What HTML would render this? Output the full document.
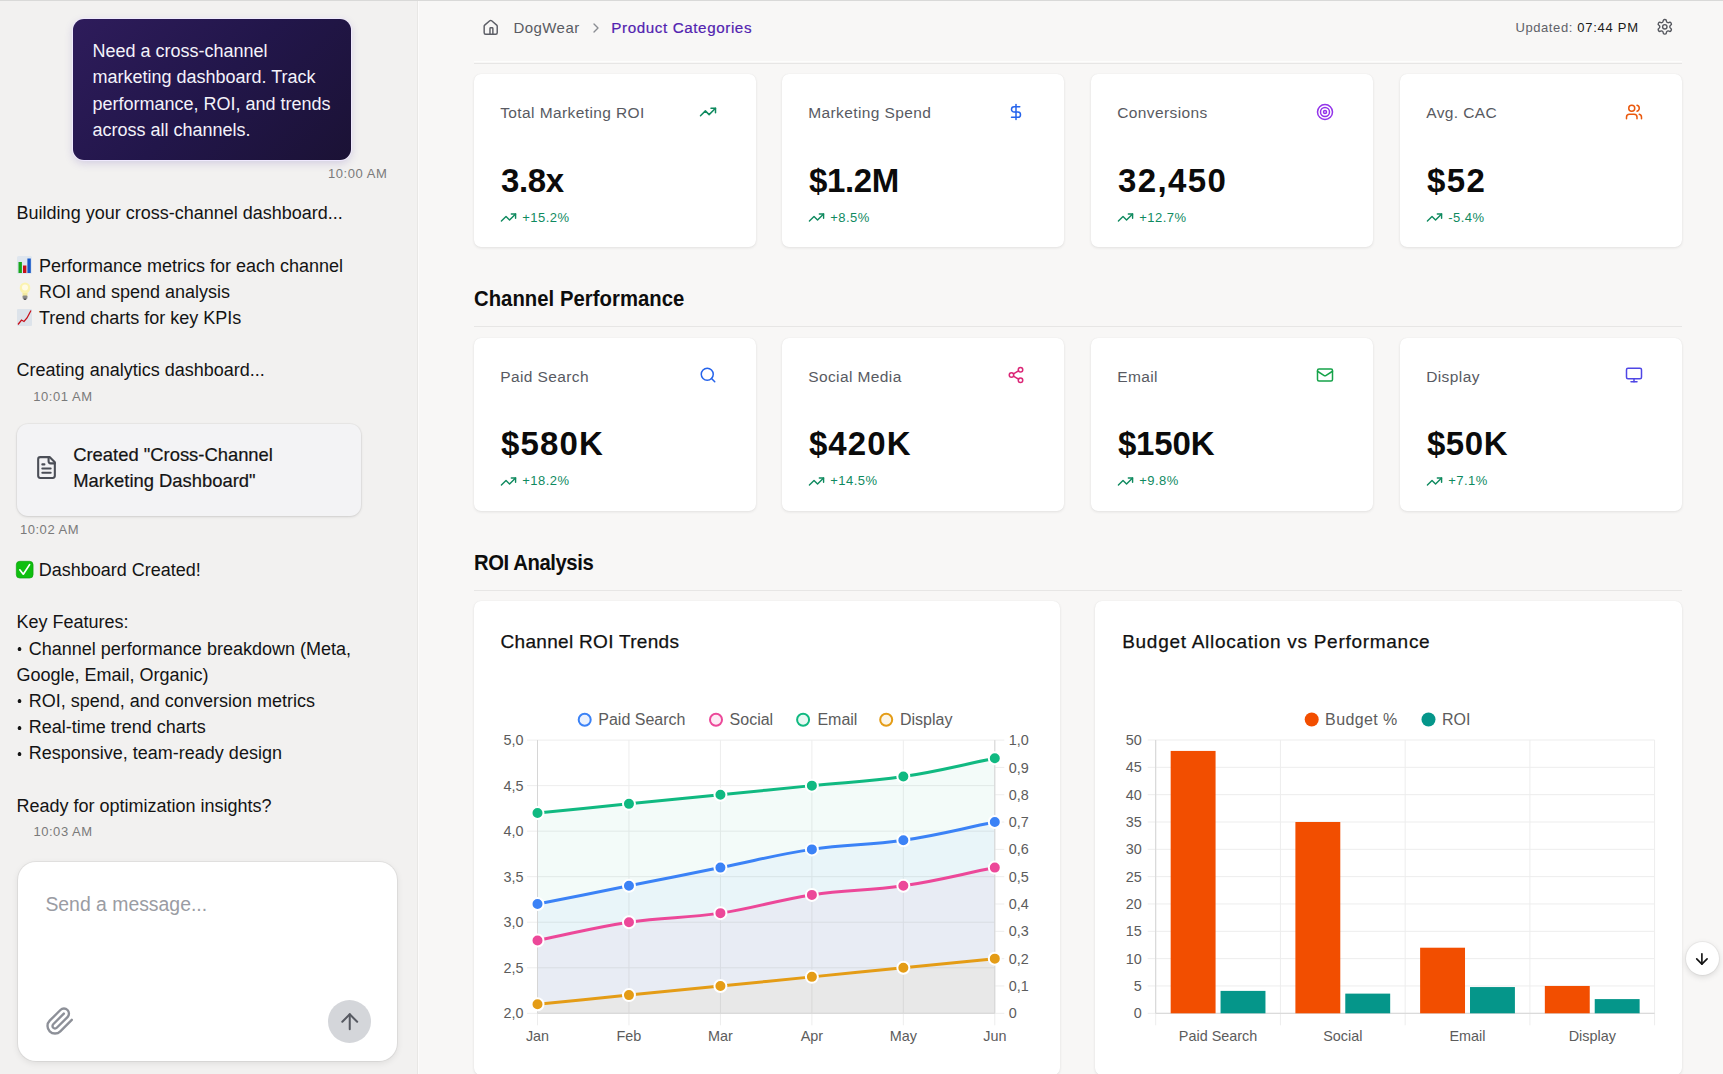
<!DOCTYPE html>
<html><head><meta charset="utf-8"><title>Cross-Channel Marketing Dashboard</title>
<style>
*{margin:0;padding:0;box-sizing:border-box}
html,body{width:1723px;height:1074px;overflow:hidden}
body{position:relative;background:#f8f7f6;font-family:"Liberation Sans", sans-serif;color:#111}
.t{position:absolute;white-space:nowrap}
.ic{position:absolute;overflow:visible}
#left{position:absolute;left:0;top:0;width:418px;height:1074px;background:#f2f1f0;border-right:1px solid #e8e7e5;box-shadow:1px 0 0 rgba(255,255,255,0.55)}
#topline{position:absolute;left:0;top:0;width:1723px;height:1px;background:#d9d9d8;z-index:5}
.bubble{position:absolute;left:73px;top:18.5px;width:278px;height:141.5px;border-radius:11px;
  background:linear-gradient(135deg,#2e1c5b 0%,#22164a 50%,#1b1235 100%);box-shadow:0 0 0 1px rgba(240,234,255,0.95),0 3px 9px rgba(90,70,170,0.22)}
.btext{color:#f4f2fa;font-size:18px;line-height:26.2px}
.chat{font-size:18px;color:#141414}
.ts{font-size:13px;color:#7a7a7a;letter-spacing:0.55px;line-height:16px}
.ei{display:inline-block;width:22.3px}
.bl{display:inline-block;width:12.4px;height:4.2px;vertical-align:3.4px;background:radial-gradient(circle at 3.5px 2.1px,#141414 1.6px,rgba(20,20,20,0) 2.2px)}
.fcard{position:absolute;left:17px;top:424px;width:344px;height:92px;border-radius:11px;background:#f3f3f5;
  box-shadow:0 1px 3px rgba(0,0,0,0.12),0 0 0 1px rgba(0,0,0,0.03)}
.input{position:absolute;left:17.6px;top:861.9px;width:379.5px;height:198.8px;border-radius:18px;background:#fff;
  box-shadow:0 2px 7px rgba(0,0,0,0.09),0 0 0 1px rgba(0,0,0,0.05)}
.send{position:absolute;left:328px;top:1000px;width:43.2px;height:43.2px;border-radius:50%;background:#d4d6da}
.card{position:absolute;background:#fff;border-radius:7px;box-shadow:0 1px 3px rgba(0,0,0,0.09),0 0 1px rgba(0,0,0,0.07)}
.ktitle{font-size:15.5px;color:#585a62;letter-spacing:0.4px;line-height:20px}
.kval{font-size:33px;font-weight:bold;color:#0b0b0b;line-height:40px}
.kchg{font-size:13px;color:#0f8a5f;letter-spacing:0.45px;line-height:18px}
.h2{font-size:21.8px;font-weight:bold;color:#0d0d0d;line-height:28px;transform:scaleX(0.93);transform-origin:0 0}
.sep{position:absolute;left:474px;width:1208px;height:1px;background:#e7e6e5}
.ctitle{font-size:19.8px;color:#111;line-height:26px;-webkit-text-stroke:0.25px #111}
.scroll{position:absolute;left:1685.5px;top:941.7px;width:33px;height:33px;border-radius:50%;background:#fff;
  box-shadow:0 2px 6px rgba(0,0,0,0.13),0 0 0 1px rgba(0,0,0,0.04)}
</style></head><body>
<div id="topline"></div>
<div id="left">
<div class="bubble"></div>
<div class="t btext" style="left:92.5px;top:38.26px">Need a cross-channel<br>marketing dashboard. Track<br>performance, ROI, and trends<br>across all channels.</div>
<div class="t ts" style="right:29.7px;top:166.00px">10:00 AM</div>
<div class="t chat" style="left:16.6px;top:200.49px;line-height:26.15px">Building your cross-channel dashboard...<br><br><span class="ei"></span>Performance metrics for each channel<br><span class="ei"></span>ROI and spend analysis<br><span class="ei"></span>Trend charts for key KPIs<br><br>Creating analytics dashboard...</div>
<svg class="ic" style="left:17px;top:256px;width:15px;height:18px" viewBox="0 0 15 18"><rect x="0" y="0" width="15" height="18" rx="1.5" fill="#dfe6ee"/><rect x="1.5" y="6" width="3.4" height="11" fill="#17a81a"/><rect x="6" y="9.5" width="3.4" height="7.5" fill="#c8101a"/><rect x="10.4" y="2.5" width="3.4" height="14.5" fill="#1556c8"/></svg><svg class="ic" style="left:19px;top:282px;width:12px;height:19px" viewBox="0 0 12 19"><ellipse cx="6" cy="6" rx="5.3" ry="5.6" fill="#fbf3b0"/><circle cx="6" cy="5.5" r="3" fill="#fffbe6"/><rect x="3.5" y="11" width="5" height="4" fill="#f2e9a0"/><rect x="3.6" y="13.5" width="4.8" height="3.5" rx="1" fill="#8a8a8a"/><rect x="4.6" y="16.5" width="2.8" height="1.5" rx="0.7" fill="#555"/></svg><svg class="ic" style="left:17px;top:309px;width:15px;height:17px" viewBox="0 0 15 17"><rect x="0" y="0" width="15" height="17" rx="1" fill="#dde3ea"/><polyline points="1,15.5 4.5,11 7,12.5 10,9 14,1.5" fill="none" stroke="#c8101a" stroke-width="1.3"/></svg>
<div class="t ts" style="left:33.2px;top:388.90px">10:01 AM</div>
<div class="fcard"></div>
<svg class="ic" style="left:34.4px;top:455.2px;width:25px;height:25px" viewBox="0 0 24 24" fill="none" stroke="#4b4e57" stroke-width="2" stroke-linecap="round" stroke-linejoin="round"><path d="M15 2H6a2 2 0 0 0-2 2v16a2 2 0 0 0 2 2h12a2 2 0 0 0 2-2V7Z"/><path d="M14 2v4a2 2 0 0 0 2 2h4"/><path d="M10 9H8"/><path d="M16 13H8"/><path d="M16 17H8"/></svg>
<div class="t chat" style="left:73.2px;top:441.87px;font-size:18.4px;line-height:25.9px;-webkit-text-stroke:0.2px #141414">Created "Cross-Channel<br>Marketing Dashboard"</div>
<div class="t ts" style="left:19.9px;top:522.10px">10:02 AM</div>
<div class="t chat" style="left:16.4px;top:557.06px;line-height:26.2px"><span class="ei"></span>Dashboard Created!<br><br>Key Features:<br><span class="bl"></span>Channel performance breakdown (Meta,<br>Google, Email, Organic)<br><span class="bl"></span>ROI, spend, and conversion metrics<br><span class="bl"></span>Real-time trend charts<br><span class="bl"></span>Responsive, team-ready design<br><br>Ready for optimization insights?</div>
<svg class="ic" style="left:16px;top:560.7px;width:17.4px;height:17.4px" viewBox="0 0 17.4 17.4"><rect x="0.3" y="0.3" width="16.8" height="16.8" rx="3.5" fill="#0fbf0f" stroke="#0a9a0a" stroke-width="0.6"/><polyline points="3.8,8.8 7.3,13.2 13.6,3.6" fill="none" stroke="#fff" stroke-width="1.7" stroke-linecap="round" stroke-linejoin="round"/></svg>
<div class="t ts" style="left:33.4px;top:823.90px">10:03 AM</div>
<div class="input"></div>
<div class="t" style="left:45.4px;top:891.88px;font-size:19.4px;line-height:24px;color:#9a9ca3">Send a message...</div>
<svg class="ic" style="left:44.6px;top:1006.2px;width:30px;height:30px" viewBox="0 0 24 24" fill="none" stroke="#8d9098" stroke-width="1.9" stroke-linecap="round" stroke-linejoin="round"><path d="m21.44 11.05-9.19 9.19a6 6 0 0 1-8.49-8.49l8.57-8.57A4 4 0 1 1 18 8.84l-8.59 8.57a2 2 0 0 1-2.83-2.83l8.49-8.48"/></svg>
<div class="send"></div>
<svg class="ic" style="left:336.75px;top:1008.6px;width:25.5px;height:25.5px" viewBox="0 0 24 24" fill="none" stroke="#575a62" stroke-width="1.9" stroke-linecap="round" stroke-linejoin="round"><path d="m5 12 7-7 7 7"/><path d="M12 19V5"/></svg>
</div>
<!-- header -->
<svg class="ic" style="left:481.9px;top:19.0px;width:17.4px;height:17.4px" viewBox="0 0 24 24" fill="none" stroke="#5c5e66" stroke-width="2" stroke-linecap="round" stroke-linejoin="round"><path d="M15 21v-8a1 1 0 0 0-1-1h-2a1 1 0 0 0-1 1v8"/><path d="M3 10a2 2 0 0 1 .709-1.528l7-5.999a2 2 0 0 1 2.582 0l7 5.999A2 2 0 0 1 21 10v9a2 2 0 0 1-2 2H5a2 2 0 0 1-2-2z"/></svg>
<div class="t" style="left:513.4px;top:18.00px;font-size:15px;line-height:20px;color:#5a5c63;letter-spacing:0.45px">DogWear</div>
<svg class="ic" style="left:587.7px;top:19.6px;width:16px;height:16px" viewBox="0 0 24 24" fill="none" stroke="#8a8c92" stroke-width="2" stroke-linecap="round" stroke-linejoin="round"><path d="m9 18 6-6-6-6"/></svg>
<div class="t" style="left:611.3px;top:17.83px;font-size:15.2px;letter-spacing:0.6px;line-height:20px;color:#5223b0;-webkit-text-stroke:0.2px #5223b0">Product Categories</div>
<div class="t" style="left:1515.4px;top:20.20px;font-size:13px;line-height:16px;color:#5f6168;letter-spacing:0.6px">Updated: <span style="color:#1a1a1a;letter-spacing:0.75px">07:44 PM</span></div>
<svg class="ic" style="left:1656px;top:18px;width:17.6px;height:17.6px" viewBox="0 0 24 24" fill="none" stroke="#55575e" stroke-width="1.9" stroke-linecap="round" stroke-linejoin="round"><path d="M12.22 2h-.44a2 2 0 0 0-2 2v.18a2 2 0 0 1-1 1.73l-.43.25a2 2 0 0 1-2 0l-.15-.08a2 2 0 0 0-2.73.73l-.22.38a2 2 0 0 0 .73 2.73l.15.1a2 2 0 0 1 1 1.72v.51a2 2 0 0 1-1 1.74l-.15.09a2 2 0 0 0-.73 2.73l.22.38a2 2 0 0 0 2.73.73l.15-.08a2 2 0 0 1 2 0l.43.25a2 2 0 0 1 1 1.73V20a2 2 0 0 0 2 2h.44a2 2 0 0 0 2-2v-.18a2 2 0 0 1 1-1.73l.43-.25a2 2 0 0 1 2 0l.15.08a2 2 0 0 0 2.73-.73l.22-.39a2 2 0 0 0-.73-2.73l-.15-.08a2 2 0 0 1-1-1.74v-.5a2 2 0 0 1 1-1.74l.15-.09a2 2 0 0 0 .73-2.73l-.22-.38a2 2 0 0 0-2.73-.73l-.15.08a2 2 0 0 1-2 0l-.43-.25a2 2 0 0 1-1-1.73V4a2 2 0 0 0-2-2z"/><circle cx="12" cy="12" r="3"/></svg>
<div class="sep" style="top:61px;background:rgba(255,255,255,0.7)"></div><div class="sep" style="top:63px"></div>
<div class="card" style="left:474px;top:74px;width:282px;height:173.3px"></div>
<div class="t ktitle" style="left:500.2px;top:103.13px">Total Marketing ROI</div>
<svg class="ic" style="left:698.5px;top:102.5px;width:18px;height:18px" viewBox="0 0 24 24" fill="none" stroke="#0f8a5f" stroke-width="2" stroke-linecap="round" stroke-linejoin="round"><polyline points="22 7 13.5 15.5 8.5 10.5 2 17"/><polyline points="16 7 22 7 22 13"/></svg>
<div class="t kval" style="left:500.9px;top:160.77px;letter-spacing:-0.3px">3.8x</div>
<svg class="ic" style="left:499.6px;top:209.3px;width:17px;height:17px" viewBox="0 0 24 24" fill="none" stroke="#0f8a5f" stroke-width="2" stroke-linecap="round" stroke-linejoin="round"><polyline points="22 7 13.5 15.5 8.5 10.5 2 17"/><polyline points="16 7 22 7 22 13"/></svg>
<div class="t kchg" style="left:522.3px;top:208.80px">+15.2%</div>
<div class="card" style="left:782px;top:74px;width:282px;height:173.3px"></div>
<div class="t ktitle" style="left:808.2px;top:103.13px">Marketing Spend</div>
<svg class="ic" style="left:1006.5px;top:102.5px;width:18px;height:18px" viewBox="0 0 24 24" fill="none" stroke="#2563eb" stroke-width="2" stroke-linecap="round" stroke-linejoin="round"><line x1="12" x2="12" y1="2" y2="22"/><path d="M17 5H9.5a3.5 3.5 0 0 0 0 7h5a3.5 3.5 0 0 1 0 7H6"/></svg>
<div class="t kval" style="left:808.9px;top:160.77px;letter-spacing:-0.35px">$1.2M</div>
<svg class="ic" style="left:807.6px;top:209.3px;width:17px;height:17px" viewBox="0 0 24 24" fill="none" stroke="#0f8a5f" stroke-width="2" stroke-linecap="round" stroke-linejoin="round"><polyline points="22 7 13.5 15.5 8.5 10.5 2 17"/><polyline points="16 7 22 7 22 13"/></svg>
<div class="t kchg" style="left:830.3px;top:208.80px">+8.5%</div>
<div class="card" style="left:1091px;top:74px;width:282px;height:173.3px"></div>
<div class="t ktitle" style="left:1117.2px;top:103.13px">Conversions</div>
<svg class="ic" style="left:1315.5px;top:102.5px;width:18px;height:18px" viewBox="0 0 24 24" fill="none" stroke="#9333ea" stroke-width="2" stroke-linecap="round" stroke-linejoin="round"><circle cx="12" cy="12" r="10"/><circle cx="12" cy="12" r="6"/><circle cx="12" cy="12" r="2"/></svg>
<div class="t kval" style="left:1117.9px;top:160.77px;letter-spacing:1.4px">32,450</div>
<svg class="ic" style="left:1116.6px;top:209.3px;width:17px;height:17px" viewBox="0 0 24 24" fill="none" stroke="#0f8a5f" stroke-width="2" stroke-linecap="round" stroke-linejoin="round"><polyline points="22 7 13.5 15.5 8.5 10.5 2 17"/><polyline points="16 7 22 7 22 13"/></svg>
<div class="t kchg" style="left:1139.3px;top:208.80px">+12.7%</div>
<div class="card" style="left:1400px;top:74px;width:282px;height:173.3px"></div>
<div class="t ktitle" style="left:1426.2px;top:103.13px">Avg. CAC</div>
<svg class="ic" style="left:1624.5px;top:102.5px;width:18px;height:18px" viewBox="0 0 24 24" fill="none" stroke="#ea580c" stroke-width="2" stroke-linecap="round" stroke-linejoin="round"><path d="M16 21v-2a4 4 0 0 0-4-4H6a4 4 0 0 0-4 4v2"/><circle cx="9" cy="7" r="4"/><path d="M22 21v-2a4 4 0 0 0-3-3.87"/><path d="M16 3.13a4 4 0 0 1 0 7.75"/></svg>
<div class="t kval" style="left:1426.9px;top:160.77px;letter-spacing:1.4px">$52</div>
<svg class="ic" style="left:1425.6px;top:209.3px;width:17px;height:17px" viewBox="0 0 24 24" fill="none" stroke="#0f8a5f" stroke-width="2" stroke-linecap="round" stroke-linejoin="round"><polyline points="22 7 13.5 15.5 8.5 10.5 2 17"/><polyline points="16 7 22 7 22 13"/></svg>
<div class="t kchg" style="left:1448.3px;top:208.80px">-5.4%</div>
<div class="t h2" style="left:474.4px;top:284.85px;letter-spacing:0.05px">Channel Performance</div>
<div class="sep" style="top:326.4px"></div>
<div class="card" style="left:474px;top:337.5px;width:282px;height:173.3px"></div>
<div class="t ktitle" style="left:500.2px;top:366.63px">Paid Search</div>
<svg class="ic" style="left:698.5px;top:366.0px;width:18px;height:18px" viewBox="0 0 24 24" fill="none" stroke="#2563eb" stroke-width="2" stroke-linecap="round" stroke-linejoin="round"><circle cx="11" cy="11" r="8"/><path d="m21 21-4.3-4.3"/></svg>
<div class="t kval" style="left:500.9px;top:424.27px;letter-spacing:1.2px">$580K</div>
<svg class="ic" style="left:499.6px;top:472.8px;width:17px;height:17px" viewBox="0 0 24 24" fill="none" stroke="#0f8a5f" stroke-width="2" stroke-linecap="round" stroke-linejoin="round"><polyline points="22 7 13.5 15.5 8.5 10.5 2 17"/><polyline points="16 7 22 7 22 13"/></svg>
<div class="t kchg" style="left:522.3px;top:472.30px">+18.2%</div>
<div class="card" style="left:782px;top:337.5px;width:282px;height:173.3px"></div>
<div class="t ktitle" style="left:808.2px;top:366.63px">Social Media</div>
<svg class="ic" style="left:1006.5px;top:366.0px;width:18px;height:18px" viewBox="0 0 24 24" fill="none" stroke="#db2777" stroke-width="2" stroke-linecap="round" stroke-linejoin="round"><circle cx="18" cy="5" r="3"/><circle cx="6" cy="12" r="3"/><circle cx="18" cy="19" r="3"/><line x1="8.59" x2="15.42" y1="13.51" y2="17.49"/><line x1="15.41" x2="8.59" y1="6.51" y2="10.49"/></svg>
<div class="t kval" style="left:808.9px;top:424.27px;letter-spacing:1.1px">$420K</div>
<svg class="ic" style="left:807.6px;top:472.8px;width:17px;height:17px" viewBox="0 0 24 24" fill="none" stroke="#0f8a5f" stroke-width="2" stroke-linecap="round" stroke-linejoin="round"><polyline points="22 7 13.5 15.5 8.5 10.5 2 17"/><polyline points="16 7 22 7 22 13"/></svg>
<div class="t kchg" style="left:830.3px;top:472.30px">+14.5%</div>
<div class="card" style="left:1091px;top:337.5px;width:282px;height:173.3px"></div>
<div class="t ktitle" style="left:1117.2px;top:366.63px">Email</div>
<svg class="ic" style="left:1315.5px;top:366.0px;width:18px;height:18px" viewBox="0 0 24 24" fill="none" stroke="#16a34a" stroke-width="2" stroke-linecap="round" stroke-linejoin="round"><rect width="20" height="16" x="2" y="4" rx="2"/><path d="m22 7-8.97 5.7a1.94 1.94 0 0 1-2.06 0L2 7"/></svg>
<div class="t kval" style="left:1117.9px;top:424.27px;letter-spacing:-0.15px">$150K</div>
<svg class="ic" style="left:1116.6px;top:472.8px;width:17px;height:17px" viewBox="0 0 24 24" fill="none" stroke="#0f8a5f" stroke-width="2" stroke-linecap="round" stroke-linejoin="round"><polyline points="22 7 13.5 15.5 8.5 10.5 2 17"/><polyline points="16 7 22 7 22 13"/></svg>
<div class="t kchg" style="left:1139.3px;top:472.30px">+9.8%</div>
<div class="card" style="left:1400px;top:337.5px;width:282px;height:173.3px"></div>
<div class="t ktitle" style="left:1426.2px;top:366.63px">Display</div>
<svg class="ic" style="left:1624.5px;top:366.0px;width:18px;height:18px" viewBox="0 0 24 24" fill="none" stroke="#4f46e5" stroke-width="2" stroke-linecap="round" stroke-linejoin="round"><rect width="20" height="14" x="2" y="3" rx="2"/><line x1="8" x2="16" y1="21" y2="21"/><line x1="12" x2="12" y1="17" y2="21"/></svg>
<div class="t kval" style="left:1426.9px;top:424.27px;letter-spacing:0.6px">$50K</div>
<svg class="ic" style="left:1425.6px;top:472.8px;width:17px;height:17px" viewBox="0 0 24 24" fill="none" stroke="#0f8a5f" stroke-width="2" stroke-linecap="round" stroke-linejoin="round"><polyline points="22 7 13.5 15.5 8.5 10.5 2 17"/><polyline points="16 7 22 7 22 13"/></svg>
<div class="t kchg" style="left:1448.3px;top:472.30px">+7.1%</div>
<div class="t h2" style="left:474.4px;top:548.55px;letter-spacing:-0.45px">ROI Analysis</div>
<div class="sep" style="top:590px"></div>
<div class="card" style="left:474px;top:600.5px;width:586px;height:474.5px"></div>
<div class="card" style="left:1095px;top:600.5px;width:587px;height:474.5px"></div>
<div class="t ctitle" style="left:500.6px;top:628.92px;font-size:19px;letter-spacing:0.3px">Channel ROI Trends</div>
<div class="t ctitle" style="left:1122.2px;top:628.92px;font-size:19px;letter-spacing:0.72px">Budget Allocation vs Performance</div>
<svg style="position:absolute;left:0;top:0" width="1723" height="1074" viewBox="0 0 1723 1074">
<line x1="527.0" y1="740.10" x2="994.8" y2="740.10" stroke="#ededed" stroke-width="1"/>
<line x1="527.0" y1="785.63" x2="994.8" y2="785.63" stroke="#ededed" stroke-width="1"/>
<line x1="527.0" y1="831.17" x2="994.8" y2="831.17" stroke="#ededed" stroke-width="1"/>
<line x1="527.0" y1="876.70" x2="994.8" y2="876.70" stroke="#ededed" stroke-width="1"/>
<line x1="527.0" y1="922.23" x2="994.8" y2="922.23" stroke="#ededed" stroke-width="1"/>
<line x1="527.0" y1="967.77" x2="994.8" y2="967.77" stroke="#ededed" stroke-width="1"/>
<line x1="527.0" y1="1013.30" x2="994.8" y2="1013.30" stroke="#ededed" stroke-width="1"/>
<line x1="537.50" y1="740.1" x2="537.50" y2="1025.3" stroke="#ededed" stroke-width="1"/>
<line x1="628.96" y1="740.1" x2="628.96" y2="1025.3" stroke="#ededed" stroke-width="1"/>
<line x1="720.42" y1="740.1" x2="720.42" y2="1025.3" stroke="#ededed" stroke-width="1"/>
<line x1="811.88" y1="740.1" x2="811.88" y2="1025.3" stroke="#ededed" stroke-width="1"/>
<line x1="903.34" y1="740.1" x2="903.34" y2="1025.3" stroke="#ededed" stroke-width="1"/>
<line x1="994.80" y1="740.1" x2="994.80" y2="1025.3" stroke="#ededed" stroke-width="1"/>
<line x1="994.8" y1="740.10" x2="1004.3" y2="740.10" stroke="#ededed" stroke-width="1"/>
<line x1="994.8" y1="767.42" x2="1004.3" y2="767.42" stroke="#ededed" stroke-width="1"/>
<line x1="994.8" y1="794.74" x2="1004.3" y2="794.74" stroke="#ededed" stroke-width="1"/>
<line x1="994.8" y1="822.06" x2="1004.3" y2="822.06" stroke="#ededed" stroke-width="1"/>
<line x1="994.8" y1="849.38" x2="1004.3" y2="849.38" stroke="#ededed" stroke-width="1"/>
<line x1="994.8" y1="876.70" x2="1004.3" y2="876.70" stroke="#ededed" stroke-width="1"/>
<line x1="994.8" y1="904.02" x2="1004.3" y2="904.02" stroke="#ededed" stroke-width="1"/>
<line x1="994.8" y1="931.34" x2="1004.3" y2="931.34" stroke="#ededed" stroke-width="1"/>
<line x1="994.8" y1="958.66" x2="1004.3" y2="958.66" stroke="#ededed" stroke-width="1"/>
<line x1="994.8" y1="985.98" x2="1004.3" y2="985.98" stroke="#ededed" stroke-width="1"/>
<line x1="994.8" y1="1013.30" x2="1004.3" y2="1013.30" stroke="#ededed" stroke-width="1"/>
<path d="M537.50,904.02 C574.08,896.73 592.38,893.09 628.96,885.81 C665.54,878.52 683.84,874.88 720.42,867.59 C757.00,860.31 775.03,854.88 811.88,849.38 C848.20,843.96 867.02,845.70 903.34,840.27 C940.19,834.77 958.22,829.35 994.80,822.06 L994.80,1013.3 L537.50,1013.3 Z" fill="rgba(59,130,246,0.05)"/>
<path d="M537.50,940.45 C574.08,933.16 592.11,927.74 628.96,922.23 C665.28,916.81 684.10,918.55 720.42,913.13 C757.27,907.62 775.03,900.42 811.88,894.91 C848.20,889.49 867.02,891.23 903.34,885.81 C940.19,880.30 958.22,874.88 994.80,867.59 L994.80,1013.3 L537.50,1013.3 Z" fill="rgba(236,72,153,0.05)"/>
<path d="M537.50,812.95 C574.08,809.31 592.38,807.49 628.96,803.85 C665.54,800.20 683.84,798.38 720.42,794.74 C757.00,791.10 775.30,789.28 811.88,785.63 C848.46,781.99 867.02,781.95 903.34,776.53 C940.19,771.02 958.22,765.60 994.80,758.31 L994.80,1013.3 L537.50,1013.3 Z" fill="rgba(16,185,129,0.05)"/>
<path d="M537.50,1004.19 C574.08,1000.55 592.38,998.73 628.96,995.09 C665.54,991.44 683.84,989.62 720.42,985.98 C757.00,982.34 775.30,980.52 811.88,976.87 C848.46,973.23 866.76,971.41 903.34,967.77 C939.92,964.12 958.22,962.30 994.80,958.66 L994.80,1013.3 L537.50,1013.3 Z" fill="rgba(228,156,22,0.05)"/>
<line x1="537.5" y1="740.1" x2="537.5" y2="1013.3" stroke="#d6d6d6" stroke-width="1"/>
<line x1="994.8" y1="740.1" x2="994.8" y2="1013.3" stroke="#d6d6d6" stroke-width="1"/>
<line x1="537.5" y1="1013.3" x2="994.8" y2="1013.3" stroke="#d6d6d6" stroke-width="1"/>
<path d="M537.50,904.02 C574.08,896.73 592.38,893.09 628.96,885.81 C665.54,878.52 683.84,874.88 720.42,867.59 C757.00,860.31 775.03,854.88 811.88,849.38 C848.20,843.96 867.02,845.70 903.34,840.27 C940.19,834.77 958.22,829.35 994.80,822.06" fill="none" stroke="rgb(59,130,246)" stroke-width="3" stroke-linejoin="round"/>
<path d="M537.50,940.45 C574.08,933.16 592.11,927.74 628.96,922.23 C665.28,916.81 684.10,918.55 720.42,913.13 C757.27,907.62 775.03,900.42 811.88,894.91 C848.20,889.49 867.02,891.23 903.34,885.81 C940.19,880.30 958.22,874.88 994.80,867.59" fill="none" stroke="rgb(236,72,153)" stroke-width="3" stroke-linejoin="round"/>
<path d="M537.50,812.95 C574.08,809.31 592.38,807.49 628.96,803.85 C665.54,800.20 683.84,798.38 720.42,794.74 C757.00,791.10 775.30,789.28 811.88,785.63 C848.46,781.99 867.02,781.95 903.34,776.53 C940.19,771.02 958.22,765.60 994.80,758.31" fill="none" stroke="rgb(16,185,129)" stroke-width="3" stroke-linejoin="round"/>
<path d="M537.50,1004.19 C574.08,1000.55 592.38,998.73 628.96,995.09 C665.54,991.44 683.84,989.62 720.42,985.98 C757.00,982.34 775.30,980.52 811.88,976.87 C848.46,973.23 866.76,971.41 903.34,967.77 C939.92,964.12 958.22,962.30 994.80,958.66" fill="none" stroke="rgb(228,156,22)" stroke-width="3" stroke-linejoin="round"/>
<circle cx="537.50" cy="904.02" r="6" fill="rgb(59,130,246)" stroke="#fff" stroke-width="2"/>
<circle cx="628.96" cy="885.81" r="6" fill="rgb(59,130,246)" stroke="#fff" stroke-width="2"/>
<circle cx="720.42" cy="867.59" r="6" fill="rgb(59,130,246)" stroke="#fff" stroke-width="2"/>
<circle cx="811.88" cy="849.38" r="6" fill="rgb(59,130,246)" stroke="#fff" stroke-width="2"/>
<circle cx="903.34" cy="840.27" r="6" fill="rgb(59,130,246)" stroke="#fff" stroke-width="2"/>
<circle cx="994.80" cy="822.06" r="6" fill="rgb(59,130,246)" stroke="#fff" stroke-width="2"/>
<circle cx="537.50" cy="940.45" r="6" fill="rgb(236,72,153)" stroke="#fff" stroke-width="2"/>
<circle cx="628.96" cy="922.23" r="6" fill="rgb(236,72,153)" stroke="#fff" stroke-width="2"/>
<circle cx="720.42" cy="913.13" r="6" fill="rgb(236,72,153)" stroke="#fff" stroke-width="2"/>
<circle cx="811.88" cy="894.91" r="6" fill="rgb(236,72,153)" stroke="#fff" stroke-width="2"/>
<circle cx="903.34" cy="885.81" r="6" fill="rgb(236,72,153)" stroke="#fff" stroke-width="2"/>
<circle cx="994.80" cy="867.59" r="6" fill="rgb(236,72,153)" stroke="#fff" stroke-width="2"/>
<circle cx="537.50" cy="812.95" r="6" fill="rgb(16,185,129)" stroke="#fff" stroke-width="2"/>
<circle cx="628.96" cy="803.85" r="6" fill="rgb(16,185,129)" stroke="#fff" stroke-width="2"/>
<circle cx="720.42" cy="794.74" r="6" fill="rgb(16,185,129)" stroke="#fff" stroke-width="2"/>
<circle cx="811.88" cy="785.63" r="6" fill="rgb(16,185,129)" stroke="#fff" stroke-width="2"/>
<circle cx="903.34" cy="776.53" r="6" fill="rgb(16,185,129)" stroke="#fff" stroke-width="2"/>
<circle cx="994.80" cy="758.31" r="6" fill="rgb(16,185,129)" stroke="#fff" stroke-width="2"/>
<circle cx="537.50" cy="1004.19" r="6" fill="rgb(228,156,22)" stroke="#fff" stroke-width="2"/>
<circle cx="628.96" cy="995.09" r="6" fill="rgb(228,156,22)" stroke="#fff" stroke-width="2"/>
<circle cx="720.42" cy="985.98" r="6" fill="rgb(228,156,22)" stroke="#fff" stroke-width="2"/>
<circle cx="811.88" cy="976.87" r="6" fill="rgb(228,156,22)" stroke="#fff" stroke-width="2"/>
<circle cx="903.34" cy="967.77" r="6" fill="rgb(228,156,22)" stroke="#fff" stroke-width="2"/>
<circle cx="994.80" cy="958.66" r="6" fill="rgb(228,156,22)" stroke="#fff" stroke-width="2"/>
<text x="523.5" y="745.20" text-anchor="end" font-family='Liberation Sans' font-size="14.4" fill="#5c5c5c">5,0</text>
<text x="523.5" y="790.73" text-anchor="end" font-family='Liberation Sans' font-size="14.4" fill="#5c5c5c">4,5</text>
<text x="523.5" y="836.27" text-anchor="end" font-family='Liberation Sans' font-size="14.4" fill="#5c5c5c">4,0</text>
<text x="523.5" y="881.80" text-anchor="end" font-family='Liberation Sans' font-size="14.4" fill="#5c5c5c">3,5</text>
<text x="523.5" y="927.33" text-anchor="end" font-family='Liberation Sans' font-size="14.4" fill="#5c5c5c">3,0</text>
<text x="523.5" y="972.87" text-anchor="end" font-family='Liberation Sans' font-size="14.4" fill="#5c5c5c">2,5</text>
<text x="523.5" y="1018.40" text-anchor="end" font-family='Liberation Sans' font-size="14.4" fill="#5c5c5c">2,0</text>
<text x="1008.8" y="745.20" font-family='Liberation Sans' font-size="14.4" fill="#5c5c5c">1,0</text>
<text x="1008.8" y="772.52" font-family='Liberation Sans' font-size="14.4" fill="#5c5c5c">0,9</text>
<text x="1008.8" y="799.84" font-family='Liberation Sans' font-size="14.4" fill="#5c5c5c">0,8</text>
<text x="1008.8" y="827.16" font-family='Liberation Sans' font-size="14.4" fill="#5c5c5c">0,7</text>
<text x="1008.8" y="854.48" font-family='Liberation Sans' font-size="14.4" fill="#5c5c5c">0,6</text>
<text x="1008.8" y="881.80" font-family='Liberation Sans' font-size="14.4" fill="#5c5c5c">0,5</text>
<text x="1008.8" y="909.12" font-family='Liberation Sans' font-size="14.4" fill="#5c5c5c">0,4</text>
<text x="1008.8" y="936.44" font-family='Liberation Sans' font-size="14.4" fill="#5c5c5c">0,3</text>
<text x="1008.8" y="963.76" font-family='Liberation Sans' font-size="14.4" fill="#5c5c5c">0,2</text>
<text x="1008.8" y="991.08" font-family='Liberation Sans' font-size="14.4" fill="#5c5c5c">0,1</text>
<text x="1008.8" y="1018.40" font-family='Liberation Sans' font-size="14.4" fill="#5c5c5c">0</text>
<text x="537.50" y="1040.9" text-anchor="middle" font-family='Liberation Sans' font-size="14.4" fill="#5c5c5c">Jan</text>
<text x="628.96" y="1040.9" text-anchor="middle" font-family='Liberation Sans' font-size="14.4" fill="#5c5c5c">Feb</text>
<text x="720.42" y="1040.9" text-anchor="middle" font-family='Liberation Sans' font-size="14.4" fill="#5c5c5c">Mar</text>
<text x="811.88" y="1040.9" text-anchor="middle" font-family='Liberation Sans' font-size="14.4" fill="#5c5c5c">Apr</text>
<text x="903.34" y="1040.9" text-anchor="middle" font-family='Liberation Sans' font-size="14.4" fill="#5c5c5c">May</text>
<text x="994.80" y="1040.9" text-anchor="middle" font-family='Liberation Sans' font-size="14.4" fill="#5c5c5c">Jun</text>
<circle cx="584.7" cy="719.7" r="6" fill="rgba(59,130,246,0.1)" stroke="rgb(59,130,246)" stroke-width="2"/>
<text x="598.3" y="725.4" font-family="Liberation Sans" font-size="16" fill="#5c5c5c">Paid Search</text>
<circle cx="716" cy="719.7" r="6" fill="rgba(236,72,153,0.1)" stroke="rgb(236,72,153)" stroke-width="2"/>
<text x="729.6" y="725.4" font-family="Liberation Sans" font-size="16" fill="#5c5c5c">Social</text>
<circle cx="803.1" cy="719.7" r="6" fill="rgba(16,185,129,0.1)" stroke="rgb(16,185,129)" stroke-width="2"/>
<text x="817.4" y="725.4" font-family="Liberation Sans" font-size="16" fill="#5c5c5c">Email</text>
<circle cx="886.2" cy="719.7" r="6" fill="rgba(228,156,22,0.1)" stroke="rgb(228,156,22)" stroke-width="2"/>
<text x="900" y="725.4" font-family="Liberation Sans" font-size="16" fill="#5c5c5c">Display</text>
<line x1="1147.7" y1="740.00" x2="1654.6" y2="740.00" stroke="#ededed" stroke-width="1"/>
<line x1="1147.7" y1="767.33" x2="1654.6" y2="767.33" stroke="#ededed" stroke-width="1"/>
<line x1="1147.7" y1="794.66" x2="1654.6" y2="794.66" stroke="#ededed" stroke-width="1"/>
<line x1="1147.7" y1="821.99" x2="1654.6" y2="821.99" stroke="#ededed" stroke-width="1"/>
<line x1="1147.7" y1="849.32" x2="1654.6" y2="849.32" stroke="#ededed" stroke-width="1"/>
<line x1="1147.7" y1="876.65" x2="1654.6" y2="876.65" stroke="#ededed" stroke-width="1"/>
<line x1="1147.7" y1="903.98" x2="1654.6" y2="903.98" stroke="#ededed" stroke-width="1"/>
<line x1="1147.7" y1="931.31" x2="1654.6" y2="931.31" stroke="#ededed" stroke-width="1"/>
<line x1="1147.7" y1="958.64" x2="1654.6" y2="958.64" stroke="#ededed" stroke-width="1"/>
<line x1="1147.7" y1="985.97" x2="1654.6" y2="985.97" stroke="#ededed" stroke-width="1"/>
<line x1="1147.7" y1="1013.30" x2="1654.6" y2="1013.30" stroke="#ededed" stroke-width="1"/>
<line x1="1155.70" y1="740.0" x2="1155.70" y2="1025.3" stroke="#ededed" stroke-width="1"/>
<line x1="1280.42" y1="740.0" x2="1280.42" y2="1025.3" stroke="#ededed" stroke-width="1"/>
<line x1="1405.15" y1="740.0" x2="1405.15" y2="1025.3" stroke="#ededed" stroke-width="1"/>
<line x1="1529.88" y1="740.0" x2="1529.88" y2="1025.3" stroke="#ededed" stroke-width="1"/>
<line x1="1654.60" y1="740.0" x2="1654.60" y2="1025.3" stroke="#ededed" stroke-width="1"/>
<line x1="1155.7" y1="740.0" x2="1155.7" y2="1013.3" stroke="#d6d6d6" stroke-width="1"/>
<line x1="1155.7" y1="1013.3" x2="1654.6" y2="1013.3" stroke="#d6d6d6" stroke-width="1"/>
<rect x="1170.67" y="750.93" width="44.90" height="262.37" fill="#f24e00"/>
<rect x="1220.56" y="990.89" width="44.90" height="22.41" fill="#05968a"/>
<rect x="1295.39" y="821.99" width="44.90" height="191.31" fill="#f24e00"/>
<rect x="1345.28" y="993.62" width="44.90" height="19.68" fill="#05968a"/>
<rect x="1420.12" y="947.71" width="44.90" height="65.59" fill="#f24e00"/>
<rect x="1470.01" y="987.06" width="44.90" height="26.24" fill="#05968a"/>
<rect x="1544.84" y="985.97" width="44.90" height="27.33" fill="#f24e00"/>
<rect x="1594.73" y="999.09" width="44.90" height="14.21" fill="#05968a"/>
<text x="1141.7" y="745.10" text-anchor="end" font-family='Liberation Sans' font-size="14.4" fill="#5c5c5c">50</text>
<text x="1141.7" y="772.43" text-anchor="end" font-family='Liberation Sans' font-size="14.4" fill="#5c5c5c">45</text>
<text x="1141.7" y="799.76" text-anchor="end" font-family='Liberation Sans' font-size="14.4" fill="#5c5c5c">40</text>
<text x="1141.7" y="827.09" text-anchor="end" font-family='Liberation Sans' font-size="14.4" fill="#5c5c5c">35</text>
<text x="1141.7" y="854.42" text-anchor="end" font-family='Liberation Sans' font-size="14.4" fill="#5c5c5c">30</text>
<text x="1141.7" y="881.75" text-anchor="end" font-family='Liberation Sans' font-size="14.4" fill="#5c5c5c">25</text>
<text x="1141.7" y="909.08" text-anchor="end" font-family='Liberation Sans' font-size="14.4" fill="#5c5c5c">20</text>
<text x="1141.7" y="936.41" text-anchor="end" font-family='Liberation Sans' font-size="14.4" fill="#5c5c5c">15</text>
<text x="1141.7" y="963.74" text-anchor="end" font-family='Liberation Sans' font-size="14.4" fill="#5c5c5c">10</text>
<text x="1141.7" y="991.07" text-anchor="end" font-family='Liberation Sans' font-size="14.4" fill="#5c5c5c">5</text>
<text x="1141.7" y="1018.40" text-anchor="end" font-family='Liberation Sans' font-size="14.4" fill="#5c5c5c">0</text>
<text x="1218.06" y="1041.3" text-anchor="middle" font-family='Liberation Sans' font-size="14.4" fill="#5c5c5c">Paid Search</text>
<text x="1342.79" y="1041.3" text-anchor="middle" font-family='Liberation Sans' font-size="14.4" fill="#5c5c5c">Social</text>
<text x="1467.51" y="1041.3" text-anchor="middle" font-family='Liberation Sans' font-size="14.4" fill="#5c5c5c">Email</text>
<text x="1592.24" y="1041.3" text-anchor="middle" font-family='Liberation Sans' font-size="14.4" fill="#5c5c5c">Display</text>
<circle cx="1311.7" cy="719.5" r="7" fill="#f24e00"/>
<text x="1325.1" y="725.2" font-family="Liberation Sans" font-size="16" fill="#5c5c5c" letter-spacing="0.4">Budget %</text>
<circle cx="1428.5" cy="719.5" r="7" fill="#05968a"/>
<text x="1442" y="725.2" font-family="Liberation Sans" font-size="16" fill="#5c5c5c">ROI</text>
</svg>
<div class="scroll"></div>
<svg class="ic" style="left:1693.2px;top:949.7px;width:17.8px;height:17.8px" viewBox="0 0 24 24" fill="none" stroke="#111" stroke-width="2.2" stroke-linecap="round" stroke-linejoin="round"><path d="M12 5v14"/><path d="m19 12-7 7-7-7"/></svg>
</body></html>
